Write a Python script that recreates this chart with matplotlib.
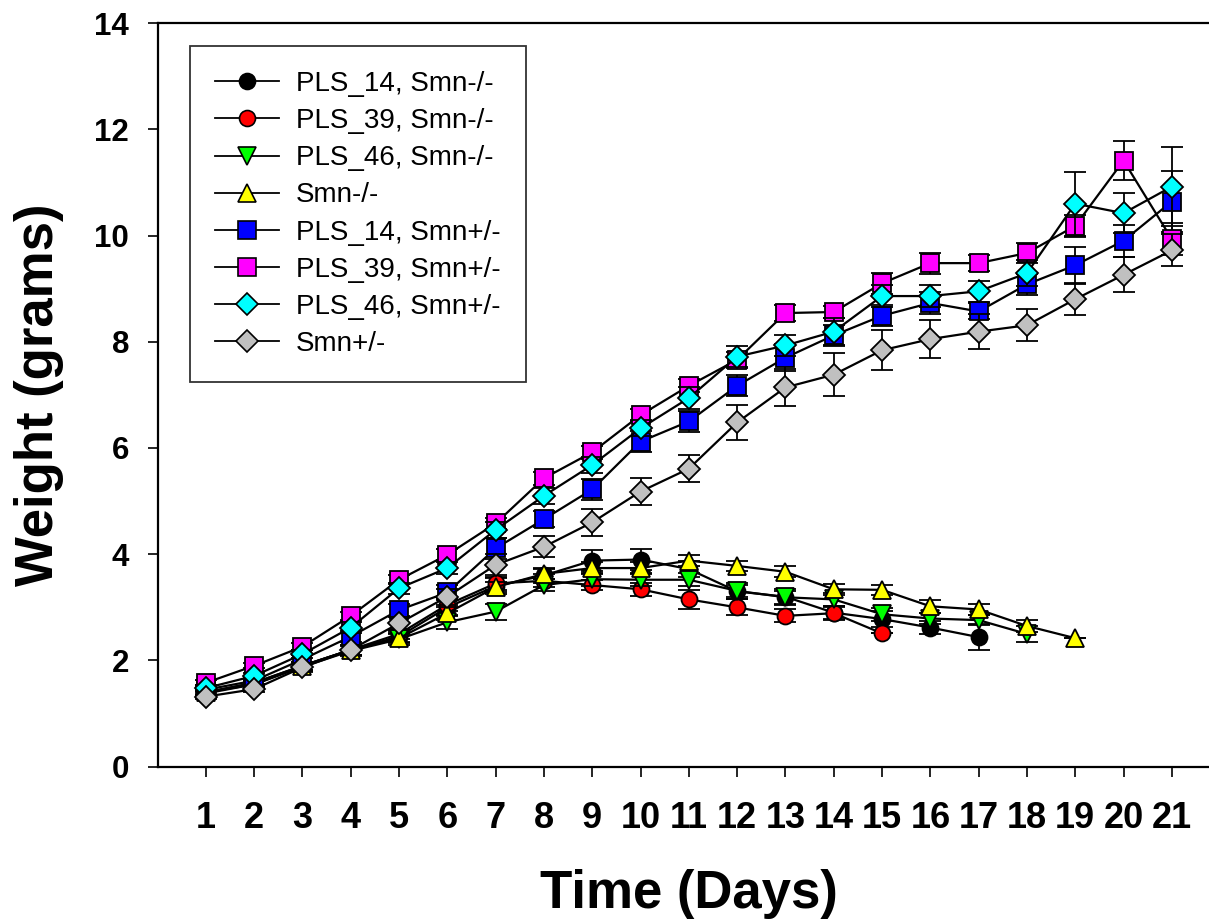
import matplotlib
matplotlib.use("Agg")
import matplotlib.pyplot as plt
from matplotlib.lines import Line2D
import numpy as np

plt.rcParams['font.family'] = ['Liberation Sans', 'DejaVu Sans']

# body weight by day, mean and SEM per group
days = np.arange(1, 22)

pls14_ko = [1.40, 1.58, 1.90, 2.20, 2.45, 3.00, 3.40, 3.60, 3.88, 3.90, 3.72,
            3.30, 3.20, 2.90, 2.78, 2.62, 2.44]
pls14_ko_err = [0.05, 0.06, 0.08, 0.10, 0.10, 0.15, 0.15, 0.15, 0.20, 0.20,
                0.15, 0.15, 0.15, 0.12, 0.15, 0.12, 0.25]

pls39_ko = [1.40, 1.55, 1.90, 2.20, 2.50, 3.05, 3.45, 3.50, 3.42, 3.34, 3.15,
            3.00, 2.84, 2.89, 2.51]
pls39_ko_err = [0.05, 0.06, 0.08, 0.10, 0.10, 0.12, 0.12, 0.12, 0.10, 0.12,
                0.18, 0.15, 0.12, 0.12, 0.0]

pls46_ko = [1.38, 1.55, 1.88, 2.18, 2.40, 2.72, 2.92, 3.42, 3.53, 3.52, 3.52,
            3.31, 3.19, 3.15, 2.87, 2.79, 2.76, 2.50]
pls46_ko_err = [0.05, 0.06, 0.08, 0.10, 0.10, 0.12, 0.15, 0.12, 0.12, 0.12,
                0.12, 0.12, 0.12, 0.12, 0.12, 0.10, 0.10, 0.15]

ko = [1.40, 1.58, 1.90, 2.20, 2.42, 2.89, 3.38, 3.63, 3.74, 3.74, 3.88, 3.78,
      3.67, 3.34, 3.33, 3.02, 2.96, 2.65, 2.42]
ko_err = [0.05, 0.06, 0.08, 0.10, 0.10, 0.12, 0.10, 0.10, 0.12, 0.12, 0.10,
          0.10, 0.10, 0.10, 0.10, 0.12, 0.10, 0.12, 0.0]

pls14_het = [1.45, 1.62, 2.02, 2.45, 2.95, 3.28, 4.11, 4.66, 5.22, 6.12, 6.50,
             7.17, 7.70, 8.12, 8.49, 8.73, 8.57, 9.08, 9.44, 9.90, 10.64]
pls14_het_err = [0.05, 0.06, 0.08, 0.10, 0.12, 0.15, 0.20, 0.15, 0.20, 0.20,
                 0.20, 0.20, 0.25, 0.20, 0.20, 0.20, 0.15, 0.20, 0.35, 0.30, 0.58]

pls39_het = [1.58, 1.90, 2.26, 2.84, 3.52, 3.99, 4.58, 5.43, 5.92, 6.62, 7.17,
             7.66, 8.54, 8.56, 9.10, 9.48, 9.48, 9.67, 10.18, 11.41, 9.93]
pls39_het_err = [0.05, 0.05, 0.06, 0.08, 0.08, 0.10, 0.10, 0.12, 0.12, 0.12,
                 0.12, 0.15, 0.15, 0.12, 0.20, 0.20, 0.15, 0.18, 0.20, 0.36, 0.30]

pls46_het = [1.48, 1.71, 2.12, 2.62, 3.36, 3.74, 4.46, 5.10, 5.68, 6.37, 6.94,
             7.72, 7.93, 8.19, 8.86, 8.86, 8.95, 9.29, 10.60, 10.42, 10.92]
pls46_het_err = [0.05, 0.06, 0.08, 0.10, 0.10, 0.12, 0.15, 0.15, 0.15, 0.15,
                 0.20, 0.20, 0.20, 0.25, 0.20, 0.20, 0.20, 0.25, 0.60, 0.38, 0.75]

het = [1.32, 1.46, 1.87, 2.20, 2.70, 3.20, 3.80, 4.14, 4.60, 5.18, 5.61, 6.48,
       7.14, 7.38, 7.84, 8.05, 8.19, 8.31, 8.80, 9.26, 9.72]
het_err = [0.05, 0.06, 0.08, 0.10, 0.12, 0.15, 0.20, 0.20, 0.25, 0.26, 0.25,
           0.33, 0.35, 0.40, 0.38, 0.36, 0.33, 0.30, 0.30, 0.33, 0.30]

series = [
    ("PLS_14, Smn-/-", pls14_ko, pls14_ko_err, "o", "#000000", 11.5),
    ("PLS_39, Smn-/-", pls39_ko, pls39_ko_err, "o", "#ff0000", 11.5),
    ("PLS_46, Smn-/-", pls46_ko, pls46_ko_err, "v", "#00ff00", 13),
    ("Smn-/-", ko, ko_err, "^", "#ffff00", 13),
    ("PLS_14, Smn+/-", pls14_het, pls14_het_err, "s", "#0000ff", 12.5),
    ("PLS_39, Smn+/-", pls39_het, pls39_het_err, "s", "#ff00ff", 12.5),
    ("PLS_46, Smn+/-", pls46_het, pls46_het_err, "D", "#00ffff", 11),
    ("Smn+/-", het, het_err, "D", "#c0c0c0", 11),
]

fig = plt.figure(figsize=(12.09, 9.24), dpi=100)
ax = fig.add_axes([0.1303, 0.1702, 0.8789, 0.8049])

handles = []
for i, (label, vals, err, mk, col, ms) in enumerate(series):
    x = days[:len(vals)]
    ax.errorbar(x, vals, yerr=err, fmt="-", marker=mk, color="black",
                markerfacecolor=col, markeredgecolor="black", markeredgewidth=1.3,
                markersize=ms, linewidth=1.6, ecolor="black", elinewidth=1.3,
                capsize=8, capthick=1.8, zorder=3 + i * 0.1)
    # legend entry: line and marker only, no error bar
    handles.append(Line2D([], [], color="black", linewidth=1.3, marker=mk,
                          markerfacecolor=col, markeredgecolor="black",
                          markeredgewidth=1.2, markersize=ms, label=label))

ax.set_xlim(0, 22)
ax.set_ylim(0, 14)
ax.set_xticks(days)
ax.set_yticks(np.arange(0, 15, 2))
ax.spines["right"].set_visible(False)
for s in ["left", "bottom", "top"]:
    ax.spines[s].set_linewidth(1.6)

ax.tick_params(axis="both", direction="out", length=7.5, width=1.2)
ax.tick_params(axis="x", labelsize=26, pad=17)
ax.tick_params(axis="y", labelsize=22.5, pad=13)
for lab in ax.get_xticklabels() + ax.get_yticklabels():
    lab.set_fontweight("bold")

ax.set_xlabel("Time (Days)", fontsize=38, fontweight="bold", labelpad=24)
ax.set_ylabel("Weight (grams)", fontsize=38, fontweight="bold", labelpad=22)

leg = ax.legend(handles=handles, loc="upper left", bbox_to_anchor=(0.031, 0.969),
                borderaxespad=0, fontsize=20, frameon=True, fancybox=False,
                handlelength=2.3, handletextpad=0.6, labelspacing=0.4,
                borderpad=0.9)
leg.get_frame().set_edgecolor("black")
leg.get_frame().set_linewidth(1.3)

fig.savefig("out.png", dpi=100)
